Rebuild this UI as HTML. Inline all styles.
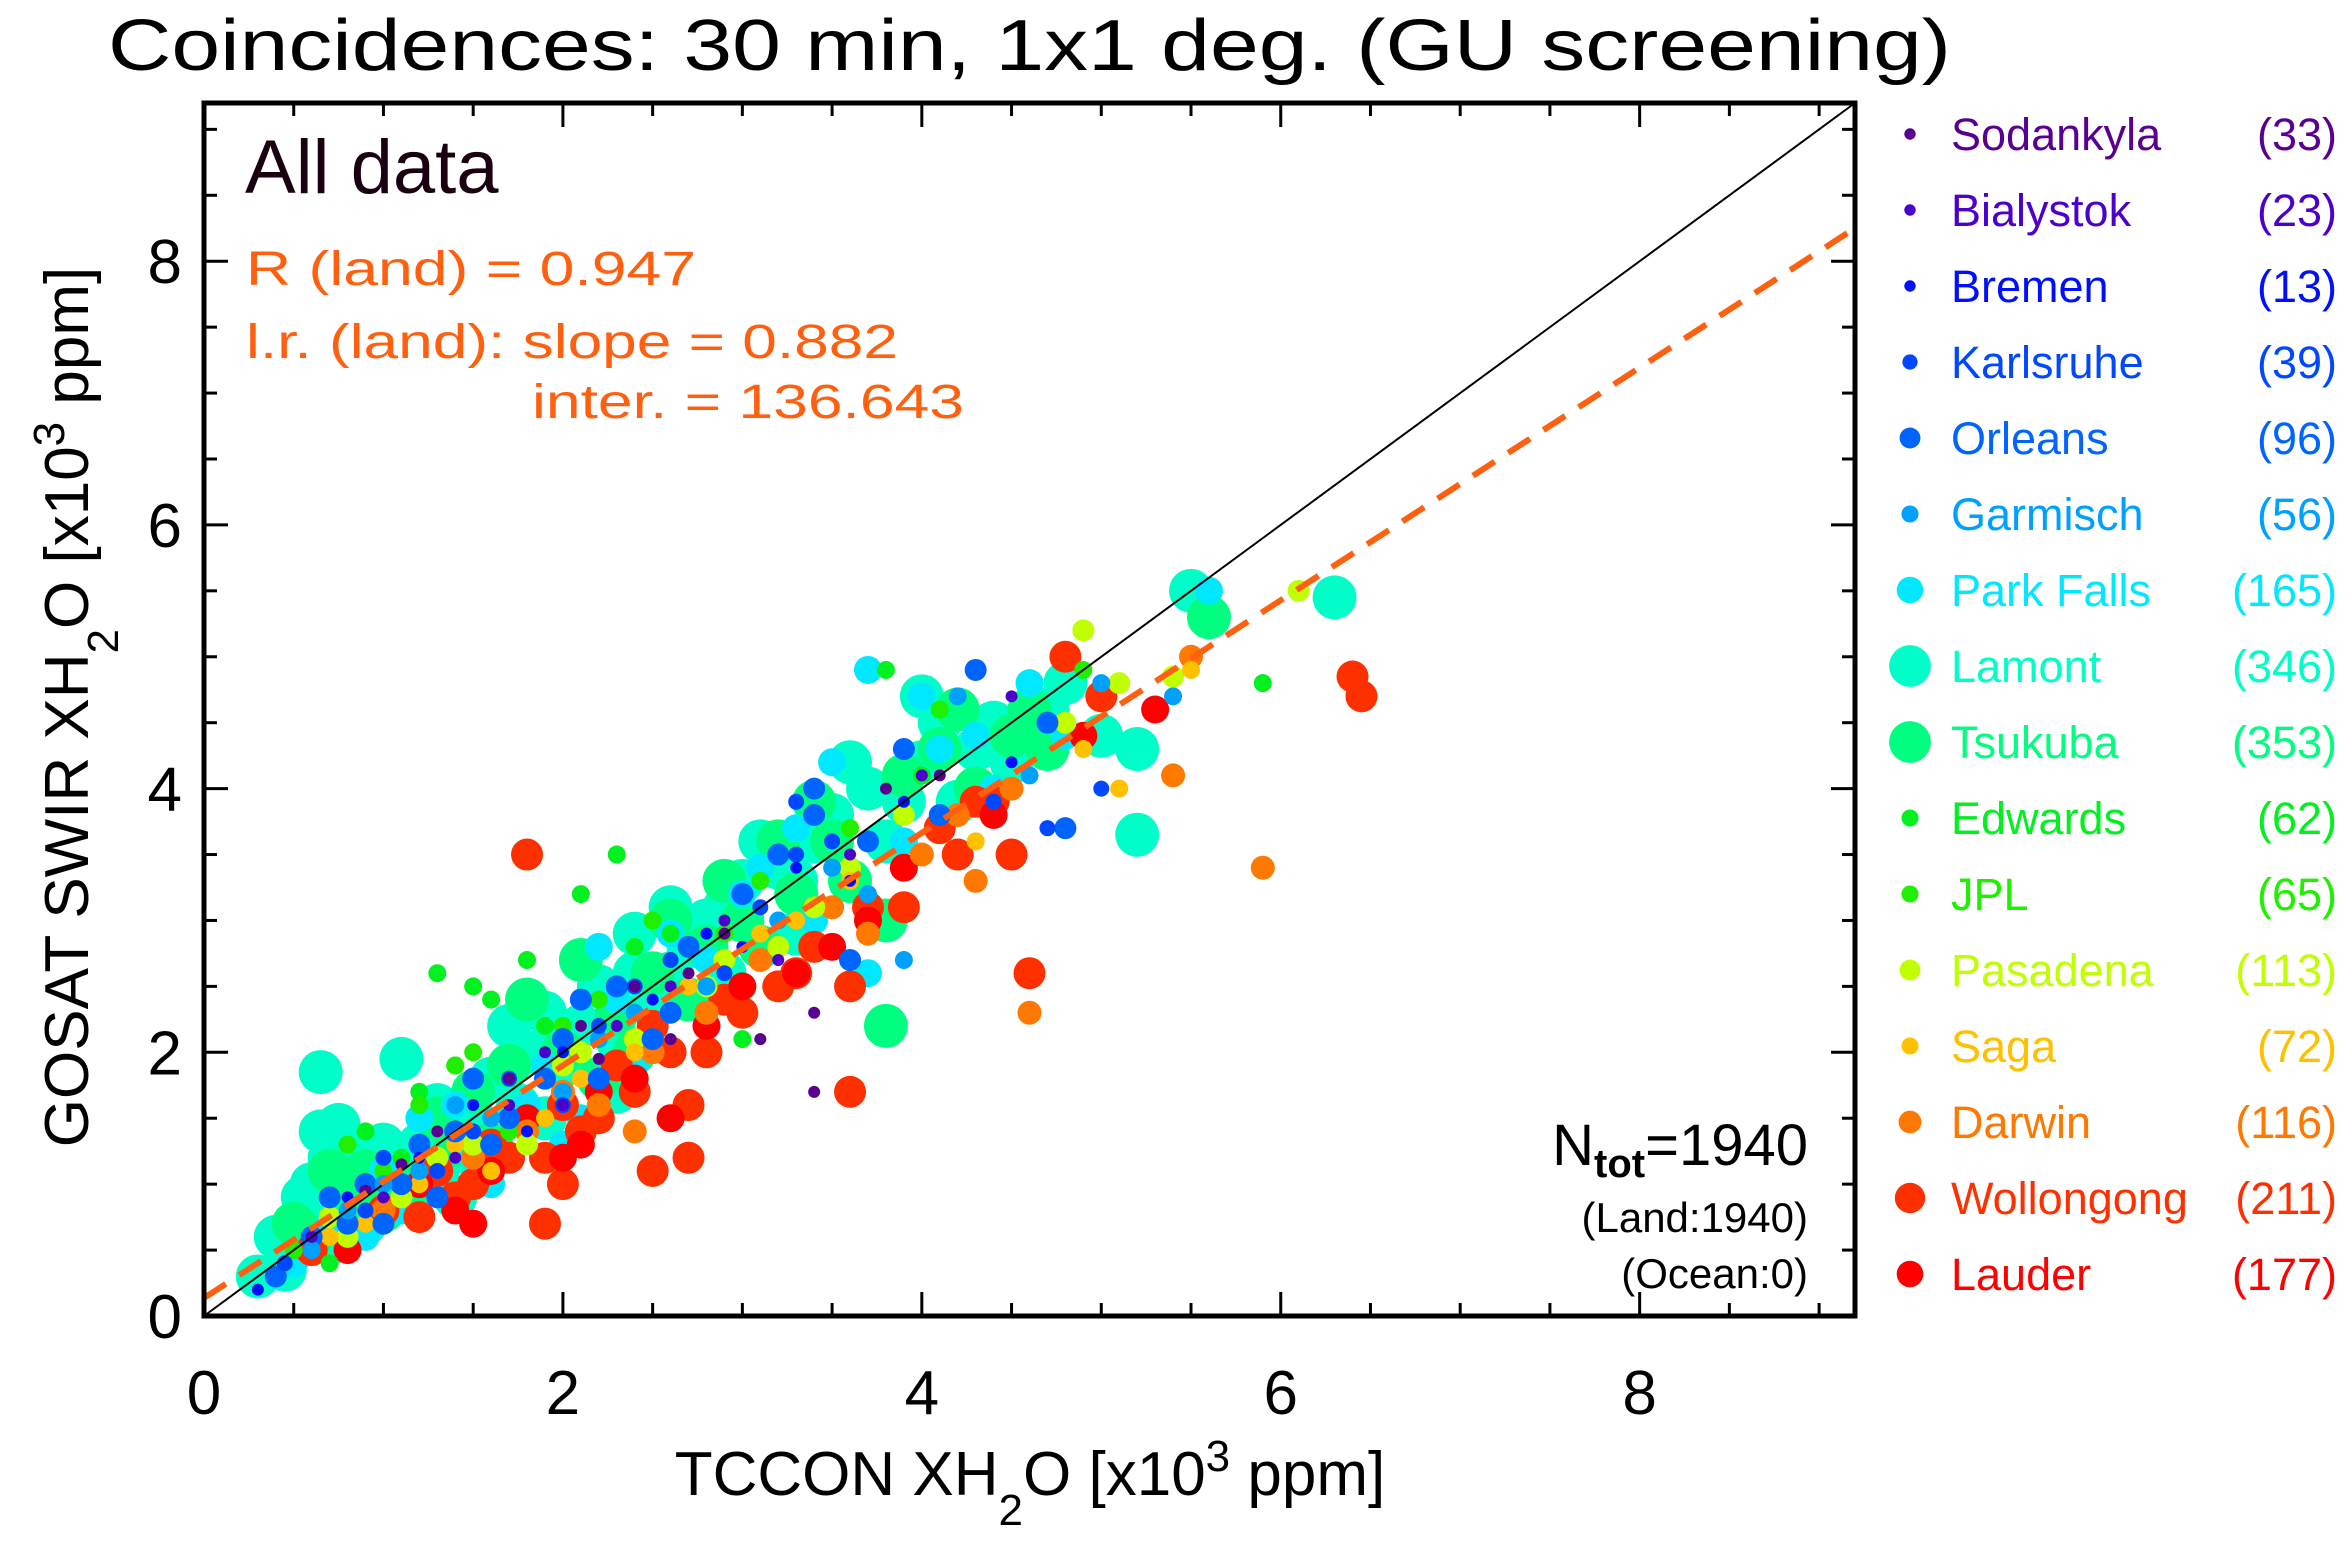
<!DOCTYPE html>
<html><head><meta charset="utf-8"><style>
html,body{margin:0;padding:0;background:#fff}
svg{display:block;font-family:"Liberation Sans",sans-serif}
</style></head><body>
<svg id="chart" width="2348" height="1541" viewBox="0 0 2348 1541" xmlns="http://www.w3.org/2000/svg">
<text x="108" y="70" font-size="72" textLength="1843" lengthAdjust="spacingAndGlyphs">Coincidences: 30 min, 1x1 deg. (GU screening)</text>
<g id="points"></g>
<g id="lines"></g>
<g id="axes"></g>
<text x="245" y="193" font-size="76" fill="#1a0010">All data</text>
<g fill="#ff6010" font-size="48">
<text x="246" y="285" textLength="450" lengthAdjust="spacingAndGlyphs">R (land) = 0.947</text>
<text x="246" y="358" textLength="652" lengthAdjust="spacingAndGlyphs">l.r. (land): slope = 0.882</text>
<text x="532" y="418" textLength="432" lengthAdjust="spacingAndGlyphs">inter. = 136.643</text>
</g>
<g text-anchor="end">
<text x="1808" y="1165" font-size="58">N<tspan font-size="40" font-weight="bold" dy="12">tot</tspan><tspan dy="-12">=1940</tspan></text>
<text x="1808" y="1232" font-size="42">(Land:1940)</text>
<text x="1808" y="1288" font-size="42">(Ocean:0)</text>
</g>
<text x="1030" y="1495" font-size="62" text-anchor="middle">TCCON XH<tspan font-size="44" dy="30">2</tspan><tspan dy="-30">O [x10</tspan><tspan font-size="44" dy="-24">3</tspan><tspan dy="24"> ppm]</tspan></text>
<text transform="translate(88,707) rotate(-90)" font-size="62" text-anchor="middle">GOSAT SWIR XH<tspan font-size="44" dy="30">2</tspan><tspan dy="-30">O [x10</tspan><tspan font-size="44" dy="-24">3</tspan><tspan dy="24"> ppm]</tspan></text>
<g id="legend"></g>
</svg>
<script>
const xTicks = [0, 2, 4, 6, 8];
const yTicks = [0, 2, 4, 6, 8];
const axisMax = 9.2;
const slope = 0.882;
const intercept = 0.1366;
const stationNames = ["Sodankyla","Bialystok","Bremen","Karlsruhe","Orleans","Garmisch","Park Falls","Lamont","Tsukuba","Edwards","JPL","Pasadena","Saga","Darwin","Wollongong","Lauder"];
const stationCounts = [33,23,13,39,96,56,165,346,353,62,65,113,72,116,211,177];
const sodankyla = [[0.9,0.95],[1.3,1.4],[1.7,1.8],[2.1,2.2],[2.4,2.5],[2.7,2.6],[3.4,1.7],[3.4,2.3],[2.9,2.9],[3.8,4.0],[2.6,2.1],[4.1,4.1],[1.1,1.15],[3.1,2.1],[2.2,1.95]];
const bialystok = [[0.6,0.6],[1.0,0.9],[1.4,1.2],[1.9,2.0],[2.3,2.2],[2.6,2.5],[3.2,2.7],[3.6,3.5],[4.0,4.1],[1.7,1.6],[2.9,3.0],[4.5,4.7],[2.0,1.6]];
const bremen = [[0.3,0.2],[0.8,0.9],[1.5,1.6],[2.0,2.0],[2.5,2.4],[3.0,2.8],[3.3,3.4],[3.9,3.9],[1.2,1.2],[4.5,4.2],[2.8,2.9],[1.8,1.4],[3.6,3.3]];
const karlsruhe = [[0.45,0.4],[0.9,0.8],[1.3,1.1],[1.7,1.8],[2.2,2.2],[2.6,2.7],[3.1,3.1],[3.5,3.6],[4.4,3.9],[5.0,4.0],[4.7,3.7],[2.0,1.6],[3.3,3.5],[1.0,1.2],[1.5,1.4],[2.4,2.5],[2.9,2.6],[3.3,3.9]];
const orleans = [[0.4,0.3],[0.8,0.7],[1.1,1.0],[1.4,1.4],[1.9,1.8],[2.3,2.5],[2.7,2.8],[3.0,3.2],[3.4,3.8],[3.4,4.0],[3.9,4.3],[4.3,4.9],[4.8,3.7],[4.7,4.5],[2.1,2.4],[1.6,1.3],[2.5,2.1],[3.6,2.7],[0.6,0.6],[1.2,1.3],[0.9,1.0],[1.0,0.7],[1.3,0.9],[1.7,1.5],[2.2,1.8],[2.6,2.3],[3.2,3.5],[3.7,3.6],[4.1,3.8],[1.5,1.8],[2.0,2.1],[0.7,0.9]];
const garmisch = [[0.6,0.5],[1.2,1.1],[1.6,1.5],[2.0,1.7],[2.4,2.3],[2.8,2.5],[3.2,3.0],[3.7,3.2],[4.2,4.7],[4.6,4.1],[5.4,4.7],[3.9,2.7],[1.0,1.0],[5.0,4.8],[1.4,1.6],[2.2,2.1],[3.5,3.4],[0.8,0.8]];
const parkFalls = [[0.7,0.7],[1.1,0.8],[1.5,1.2],[2.1,1.5],[2.5,2.2],[2.8,2.7],[3.0,3.2],[3.3,3.7],[3.7,4.9],[4.0,4.7],[4.3,4.4],[4.4,4.0],[3.7,2.6],[2.0,1.3],[1.3,0.95],[5.6,5.5],[3.5,4.2],[2.3,2.4],[4.8,4.4],[1.8,1.6],[0.9,0.6],[1.6,1.0],[1.0,1.1],[1.4,1.6],[1.9,1.9],[2.2,2.8],[2.6,2.9],[3.1,3.4],[3.9,3.6],[4.1,4.3],[4.6,4.8],[0.5,0.4],[1.2,1.5],[2.4,1.9],[3.4,3.0]];
const lamont = [[0.3,0.3],[0.5,0.5],[0.6,0.7],[0.65,1.85],[0.65,1.4],[0.7,1.2],[0.75,1.45],[0.8,1.0],[1.0,0.9],[1.1,1.95],[1.2,1.3],[1.3,1.1],[1.5,1.5],[1.6,1.8],[1.7,2.2],[1.9,2.3],[2.0,1.9],[2.2,2.5],[2.4,2.9],[2.6,3.1],[2.6,2.6],[2.8,3.0],[3.0,3.3],[3.2,3.4],[3.3,2.9],[3.5,3.8],[3.7,4.0],[3.8,3.6],[4.0,4.2],[4.2,3.9],[4.4,4.5],[4.6,4.5],[4.8,4.8],[5.0,4.4],[5.2,4.3],[5.2,3.65],[6.3,5.45],[5.5,5.5],[4.0,4.7],[1.4,0.9],[2.3,1.7],[3.6,4.2],[0.45,0.35],[0.9,0.7],[0.6,1.0],[1.0,1.3],[2.9,2.6],[3.1,3.6],[0.4,0.6],[0.55,0.9],[0.7,0.55],[0.85,1.2],[1.15,1.05],[1.3,1.6],[1.45,1.25],[1.75,1.6],[1.85,2.0],[2.1,2.2],[2.3,2.1],[2.5,2.4],[2.7,2.8],[2.9,3.1],[3.3,3.3],[3.4,3.6],[3.9,3.9],[4.3,4.3],[4.5,4.2],[4.7,4.6],[1.9,1.5],[2.4,2.6],[3.6,3.3],[4.1,4.5]];
const tsukuba = [[0.5,0.7],[0.9,1.1],[1.3,1.5],[1.8,2.4],[2.1,2.7],[2.3,2.3],[2.6,3.0],[3.0,3.0],[3.2,3.6],[3.4,3.9],[3.8,2.2],[3.8,3.0],[4.1,4.3],[4.5,4.4],[4.6,4.6],[5.6,5.3],[4.3,4.0],[1.6,1.3],[2.0,2.0],[2.8,2.8],[0.8,0.9],[3.6,3.3],[2.4,2.0],[1.2,1.0],[0.6,0.6],[1.0,0.8],[1.4,1.3],[1.7,1.9],[2.2,1.8],[2.5,2.6],[2.9,3.3],[3.3,3.2],[3.5,3.6],[3.9,4.1],[4.2,4.6],[4.7,4.3],[0.7,1.1],[1.5,1.7],[2.7,2.4],[3.1,2.8]];
const edwards = [[0.7,0.4],[1.3,2.6],[1.5,2.5],[1.6,2.4],[1.8,2.7],[2.1,3.2],[2.3,3.5],[3.8,4.9],[5.9,4.8],[1.2,1.7],[0.9,1.4],[2.4,2.8],[3.0,2.1],[4.0,4.1],[1.1,1.2],[1.4,1.9],[1.9,2.2],[2.6,2.9]];
const jpl = [[0.5,0.5],[1.0,1.1],[1.4,1.9],[1.5,2.0],[2.0,2.2],[2.5,3.0],[3.1,3.3],[4.1,4.6],[4.9,4.9],[1.2,1.6],[2.9,2.9],[1.7,1.4],[0.8,1.3],[2.2,2.4],[3.6,3.7]];
const pasadena = [[0.8,0.6],[1.3,1.2],[1.8,1.3],[2.1,2.0],[2.6,2.3],[2.9,2.7],[3.2,2.8],[3.6,3.4],[4.8,4.5],[4.9,5.2],[5.1,4.8],[5.4,4.85],[6.1,5.5],[1.1,0.9],[2.0,1.9],[0.7,0.75],[1.5,1.3],[2.4,2.1],[3.4,3.1],[3.9,3.8],[1.0,0.7],[2.8,2.5]];
const saga = [[0.9,0.7],[1.4,1.3],[1.6,1.1],[2.1,1.8],[2.7,2.5],[3.1,2.9],[3.6,3.3],[4.3,3.6],[5.1,4.0],[5.5,4.9],[4.9,4.3],[1.9,1.5],[1.2,1.0],[2.4,2.0],[3.3,3.0],[0.7,0.6]];
const darwin = [[1.5,1.2],[2.4,1.4],[2.5,2.0],[3.7,2.9],[4.3,3.3],[4.6,2.3],[5.9,3.4],[5.4,4.1],[5.5,5.0],[4.2,3.8],[3.1,2.7],[2.0,1.7],[1.0,0.8],[4.5,4.0],[1.8,1.4],[2.8,2.3],[3.5,3.1],[4.0,3.5],[2.2,1.6]];
const wollongong = [[1.8,3.5],[1.9,0.7],[2.0,1.0],[2.5,1.1],[2.7,1.2],[2.7,1.6],[3.6,1.7],[3.6,2.5],[4.6,2.6],[4.8,5.0],[6.4,4.85],[6.45,4.7],[4.5,3.5],[4.3,3.9],[3.2,2.5],[2.6,2.0],[1.5,1.0],[1.2,0.75],[2.2,1.5],[3.9,3.1],[5.0,4.7],[1.0,0.8],[0.6,0.5],[2.9,2.4],[3.4,2.8],[4.1,3.7],[1.7,1.2],[2.3,1.9],[1.4,0.9],[1.6,1.3],[1.9,1.2],[2.1,1.4],[2.4,1.7],[2.8,2.0],[3.0,2.3],[3.3,2.6],[3.7,3.1],[4.2,3.5],[4.4,3.9],[2.5,2.2],[1.3,1.1],[2.0,1.6]];
const lauder = [[1.4,0.8],[1.6,1.1],[2.1,1.3],[2.4,1.8],[2.8,2.2],[3.3,2.6],[3.9,3.4],[4.4,3.8],[4.9,4.4],[5.3,4.6],[1.2,1.0],[2.2,1.7],[3.0,2.5],[1.8,1.5],[0.8,0.5],[3.7,3.0],[1.5,0.7],[2.6,1.5],[3.5,2.8],[2.0,1.2]];

const stationData = [sodankyla,bialystok,bremen,karlsruhe,orleans,garmisch,parkFalls,lamont,tsukuba,edwards,jpl,pasadena,saga,darwin,wollongong,lauder];
const colors = ["#5a0090","#4b00cc","#0010ff","#0048ff","#0064ff","#00a0ff","#00e8ff","#00ffc8","#00ff80","#00f020","#20f000","#c0ff00","#ffc000","#ff7800","#ff3000","#ff0000"];
const radii = [6,6,6,8,11,9,14,22,22,9,9,11,9,12,16,14];
const drawOrder = [7,8,6,14,15,13,11,12,9,10,4,5,3,2,1,0];

const L=204, R=1855, T=103, B=1316;
function sx(v){return L+(v/axisMax)*(R-L);}
function sy(v){return B-(v/axisMax)*(B-T);}
const NS='http://www.w3.org/2000/svg';
function mk(tag,attrs,parent){const e=document.createElementNS(NS,tag);for(const k in attrs)e.setAttribute(k,attrs[k]);parent.appendChild(e);return e;}

const pts=document.getElementById('points');
drawOrder.forEach(si=>{
  const g=mk('g',{},pts);
  
  
  stationData[si].forEach(p=>{
    const c=mk('circle',{cx:sx(p[0]),cy:sy(p[1]),r:radii[si],fill:colors[si]},g);
    
    
  });
});

const lines=document.getElementById('lines');
const one=mk('line',{x1:sx(0),y1:sy(0),x2:sx(axisMax),y2:sy(axisMax),stroke:'#000','stroke-width':2},lines);


const reg=mk('line',{x1:sx(0),y1:sy(intercept),x2:sx(axisMax),y2:sy(intercept+slope*axisMax),stroke:'#ff6010','stroke-width':6,'stroke-dasharray':'26 16'},lines);



const ax=document.getElementById('axes');
const frame=mk('rect',{x:L,y:T,width:R-L,height:B-T,fill:'none',stroke:'#000','stroke-width':5},ax);


for(let v=0.5;v<axisMax;v+=0.5){
  const major=Math.abs(v%2)<1e-6;
  const len=major?24:13;
  mk('line',{x1:sx(v),y1:B,x2:sx(v),y2:B-len,stroke:'#000','stroke-width':3},ax);
  mk('line',{x1:sx(v),y1:T,x2:sx(v),y2:T+len,stroke:'#000','stroke-width':3},ax);
  mk('line',{x1:L,y1:sy(v),x2:L+len,y2:sy(v),stroke:'#000','stroke-width':3},ax);
  mk('line',{x1:R,y1:sy(v),x2:R-len,y2:sy(v),stroke:'#000','stroke-width':3},ax);
}
xTicks.forEach(v=>{
  const t=mk('text',{x:sx(v),y:1414,'font-size':62,'text-anchor':'middle'},ax);
  t.textContent=String(v);
  
  
});
yTicks.forEach(v=>{
  const t=mk('text',{x:182,y:sy(v)+22,'font-size':62,'text-anchor':'end'},ax);
  t.textContent=String(v);
  
  
});

const lg=document.getElementById('legend');
stationNames.forEach((n,i)=>{
  const cy=134+i*76;
  const g=mk('g',{},lg);
  
  
  mk('circle',{cx:1910,cy:cy,r:Math.max(5,radii[i]*0.95),fill:colors[i]},g);
  const t=mk('text',{x:1951,y:cy+16,'font-size':45,fill:colors[i]},g);
  t.textContent=n;
  const c=mk('text',{x:2337,y:cy+16,'font-size':45,fill:colors[i],'text-anchor':'end'},g);
  c.textContent='('+stationCounts[i]+')';
});
</script>
</body></html>
